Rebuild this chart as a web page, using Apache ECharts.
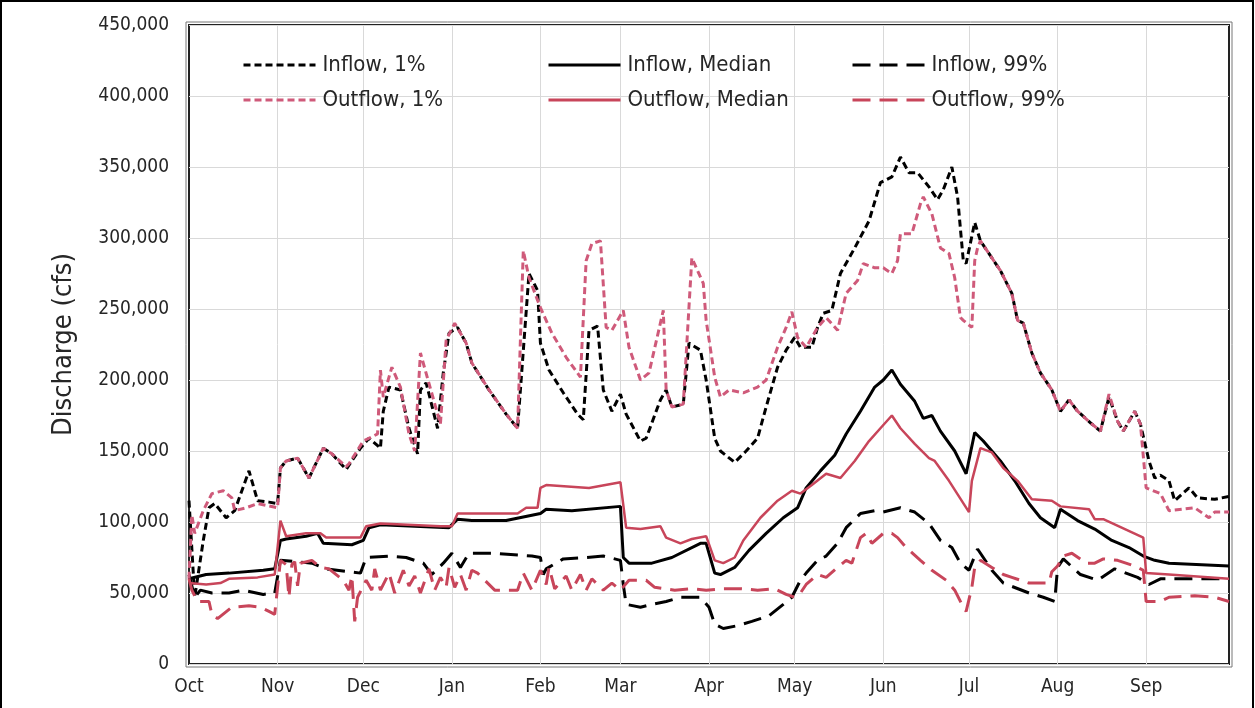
<!DOCTYPE html>
<html>
<head>
<meta charset="utf-8">
<script src="https://cdn.jsdelivr.net/npm/echarts@6/dist/echarts.min.js"></script>
<style>
html,body{margin:0;padding:0;background:#fff;}
#chart{width:1255px;height:708px;}
</style>
</head>
<body>
<div id="chart"></div>
<script>
// ---- tick labels / categories ----
const monthNames = ['Oct','Nov','Dec','Jan','Feb','Mar','Apr','May','Jun','Jul','Aug','Sep'];
const monthDays  = [31,30,31,31,28,31,30,31,30,31,31,30];

// ---- series values: [day index from Oct 1, discharge cfs] ----
const inflow1 = [
[0,115000],[2,47000],[5,87000],[7,110000],[9,113000],[13,103000],[16,108000],[21,136000],[24,115000],[28,114000],[31,113000],
[32,138000],[34,143000],[38,145000],[42,131000],[47,152000],[50,148000],[55,137000],[60,152000],[63,159000],[67,152000],[68,178000],
[70,195000],[74,193000],[77,166000],[80,148000],[81,193000],[83,198000],[87,166000],[89,205000],[91,233000],[94,237000],[97,226000],
[99,212000],[105,193000],[111,176000],[115,166000],[119,275000],[122,263000],[123,226000],[126,207000],[131,191000],[136,176000],
[138,172000],[140,235000],[143,238000],[145,193000],[148,178000],[151,190000],[153,176000],[158,157000],[160,159000],[165,186000],
[167,193000],[169,181000],[173,183000],[175,226000],[179,221000],[181,200000],[184,159000],[186,150000],[191,142000],[195,150000],
[199,159000],[202,181000],[206,209000],[209,221000],[212,230000],[214,223000],[218,223000],[220,237000],[222,247000],[225,249000],
[228,275000],[233,293000],[238,312000],[242,339000],[246,343000],[249,357000],[252,346000],[255,346000],[259,336000],[262,327000],
[264,334000],[267,350000],[269,329000],[271,284000],[272,282000],[275,311000],[277,298000],[281,286000],[284,277000],[288,261000],
[290,242000],[292,240000],[295,219000],[298,205000],[302,193000],[305,178000],[308,186000],[311,178000],[316,169000],[319,164000],
[322,188000],[325,171000],[327,164000],[331,178000],[333,169000],[336,143000],[338,131000],[340,133000],[343,129000],[345,115000],
[350,124000],[353,117000],[359,116000],[364,118000]
];
const inflowMed = [
[0,60000],[6,63000],[14,64000],[26,66000],[30,67000],[32,87000],[34,88000],[41,90000],[45,92000],[47,85000],[57,84000],[61,87000],
[63,96000],[67,98000],[91,96000],[94,102000],[99,101000],[111,101000],[123,106000],[125,109000],[134,108000],[151,111000],
[152,75000],[154,71000],[162,71000],[169,75000],[179,85000],[181,85000],[184,64000],[186,63000],[191,68000],[196,80000],
[202,92000],[208,103000],[213,110000],[216,124000],[221,136000],[226,147000],[230,162000],[235,178000],[240,195000],[243,200000],
[246,207000],[249,197000],[254,185000],[257,173000],[260,175000],[263,164000],[268,150000],[272,134000],[275,163000],[278,157000],
[284,143000],[289,129000],[294,113000],[298,103000],[303,96000],[305,109000],[311,101000],[317,95000],[323,87000],[329,82000],
[334,76000],[338,73000],[343,71000],[364,69000]
];
const inflow99 = [
[0,63000],[2,47000],[4,52000],[8,50000],[14,50000],[19,52000],[26,49000],[30,50000],[32,73000],[38,72000],[43,71000],[48,67000],
[60,64000],[62,75000],[70,76000],[76,75000],[82,71000],[85,63000],[89,71000],[92,78000],[95,68000],[98,78000],[106,78000],
[120,76000],[123,75000],[124,63000],[125,67000],[131,74000],[139,75000],[145,76000],[151,73000],[152,56000],[153,42000],
[158,40000],[162,42000],[167,44000],[172,47000],[179,47000],[182,40000],[184,28000],[187,25000],[192,27000],[197,30000],
[203,34000],[208,42000],[211,47000],[214,59000],[216,64000],[220,73000],[223,76000],[227,85000],[230,96000],[235,106000],
[240,108000],[243,107000],[249,110000],[254,107000],[259,99000],[263,87000],[267,82000],[270,71000],[273,66000],[276,81000],
[281,66000],[285,57000],[294,50000],[299,47000],[303,44000],[304,68000],[306,74000],[312,63000],[318,59000],[324,67000],
[332,61000],[336,56000],[340,60000],[364,60000]
];
const outflow1 = [
[0,60000],[1,105000],[2,92000],[5,108000],[8,120000],[12,122000],[15,117000],[16,108000],[20,110000],[24,113000],[31,110000],
[32,138000],[34,143000],[38,145000],[42,131000],[47,152000],[50,148000],[55,139000],[56,141000],[61,157000],[66,162000],[67,207000],
[68,188000],[71,209000],[74,195000],[77,162000],[79,150000],[81,219000],[88,169000],[90,228000],[93,240000],[97,226000],[99,212000],
[105,193000],[111,176000],[115,166000],[117,291000],[119,272000],[123,251000],[127,233000],[132,216000],[137,202000],[139,284000],
[141,296000],[144,298000],[146,237000],[148,235000],[152,249000],[154,223000],[158,200000],[161,205000],[166,249000],[167,193000],
[169,181000],[173,183000],[176,286000],[180,268000],[181,242000],[184,202000],[186,188000],[189,193000],[194,191000],[199,195000],
[202,200000],[206,223000],[209,237000],[211,248000],[213,230000],[216,223000],[220,237000],[223,244000],[227,235000],[230,261000],
[234,270000],[236,282000],[240,279000],[243,279000],[246,275000],[248,284000],[249,303000],[253,303000],[256,324000],[257,329000],
[260,317000],[263,293000],[266,289000],[268,272000],[270,244000],[271,242000],[274,237000],[275,284000],[276,293000],[277,298000],
[281,286000],[284,277000],[288,261000],[290,242000],[292,240000],[295,219000],[298,205000],[302,193000],[305,178000],[308,186000],
[311,178000],[316,169000],[319,164000],[322,190000],[325,171000],[327,164000],[331,178000],[333,169000],[335,124000],[340,120000],
[343,108000],[352,110000],[357,103000],[359,107000],[364,107000]
];
const outflowMed = [
[0,57000],[6,56000],[11,57000],[14,60000],[24,61000],[30,63000],[32,101000],[34,90000],[41,92000],[46,92000],[48,89000],[60,89000],
[62,97000],[67,99000],[88,97000],[92,97000],[94,106000],[99,106000],[115,106000],[118,110000],[122,110000],[123,124000],
[125,126000],[140,124000],[151,128000],[153,96000],[158,95000],[165,97000],[167,89000],[172,85000],[176,88000],[181,90000],
[184,73000],[187,71000],[191,75000],[194,87000],[200,103000],[206,115000],[211,122000],[214,120000],[218,126000],[223,134000],
[228,131000],[233,143000],[238,157000],[242,166000],[246,175000],[249,166000],[254,155000],[259,145000],[261,143000],[266,129000],
[273,107000],[274,129000],[277,152000],[281,149000],[285,138000],[290,129000],[295,116000],[302,115000],[305,111000],[315,109000],
[317,102000],[320,102000],[334,89000],[335,64000],[343,63000],[364,60000]
];
const outflow99 = [
[0,60000],[1,52000],[3,44000],[7,44000],[8,35000],[10,32000],[15,40000],[21,41000],[25,40000],[28,37000],[30,35000],[32,73000],
[34,70000],[35,47000],[36,70000],[37,72000],[38,55000],[39,71000],[43,73000],[46,68000],[49,67000],[54,59000],[56,52000],[57,62000],
[58,30000],[59,47000],[62,59000],[64,52000],[65,67000],[67,52000],[70,64000],[72,50000],[75,66000],[77,55000],[79,62000],
[81,50000],[84,67000],[86,52000],[88,61000],[90,54000],[91,68000],[93,54000],[95,63000],[97,52000],[99,66000],[101,64000],
[104,58000],[107,52000],[115,52000],[117,64000],[120,52000],[123,66000],[125,56000],[126,68000],[128,53000],[132,62000],
[134,52000],[137,63000],[139,52000],[141,60000],[145,52000],[148,57000],[151,52000],[154,59000],[160,59000],[163,54000],
[170,52000],[176,53000],[181,52000],[187,53000],[193,53000],[199,52000],[205,53000],[209,49000],[212,47000],[214,50000],
[216,56000],[220,63000],[223,61000],[227,68000],[230,73000],[232,71000],[235,89000],[237,92000],[239,85000],[243,92000],
[246,92000],[248,89000],[251,82000],[256,73000],[260,66000],[265,59000],[268,52000],[271,40000],[272,37000],[274,54000],
[275,68000],[277,73000],[281,68000],[285,63000],[288,61000],[294,57000],[301,57000],[302,65000],[304,69000],[306,76000],
[309,78000],[314,71000],[317,71000],[320,74000],[325,73000],[331,69000],[334,66000],[335,44000],[340,44000],[343,47000],
[352,48000],[359,47000],[364,44000]
];

// ---- build categories ----
const categories = [];
const monthStart = new Set();
monthNames.forEach((m, i) => {
  monthStart.add(categories.length);
  for (let d = 1; d <= monthDays[i]; d++) categories.push(m + ' ' + d);
});

const FONT = "'Liberation Sans Narrow','DejaVu Sans Condensed','Open Sans',sans-serif";
const BLACK = '#000000';
const RED = '#c8455a';
const PINK = '#cf5a7a';
const SHORT = [7, 4];
const LONG = [18, 9];

function mk(name, data, color, width, type) {
  return {
    name, type: 'line', data, symbol: 'none', showSymbol: false,
    lineStyle: { color, width, type },
    itemStyle: { color },
    animation: false
  };
}
const series = [
  mk('Inflow, 1%', inflow1, BLACK, 3, SHORT),
  mk('Inflow, Median', inflowMed, BLACK, 3, 'solid'),
  mk('Inflow, 99%', inflow99, BLACK, 3, LONG),
  mk('Outflow, 1%', outflow1, PINK, 3, SHORT),
  mk('Outflow, Median', outflowMed, RED, 2.5, 'solid'),
  mk('Outflow, 99%', outflow99, RED, 3, LONG)
];

function leg(name, left, top) {
  return {
    data: [name], left, top, itemWidth: 72, itemHeight: 14, itemGap: 0,
    itemStyle: { opacity: 0 },
    lineStyle: { width: 3 },
    textStyle: { fontFamily: FONT, fontSize: 22, color: '#262626', padding: [0, 0, 0, 2] },
    selectedMode: false
  };
}

const chart = echarts.init(document.getElementById('chart'), null, { renderer: 'canvas' });
chart.setOption({
  backgroundColor: '#ffffff',
  animation: false,
  textStyle: { fontFamily: FONT },
  grid: { left: 189, top: 25, right: 26, bottom: 44, show: true, borderColor: '#222', borderWidth: 2, backgroundColor: 'transparent' },
  legend: [
    leg('Inflow, 1%', 237, 49),
    leg('Inflow, Median', 542, 49),
    leg('Inflow, 99%', 846, 49),
    leg('Outflow, 1%', 237, 84),
    leg('Outflow, Median', 542, 84),
    leg('Outflow, 99%', 846, 84)
  ],
  xAxis: {
    type: 'category', data: categories, boundaryGap: false,
    axisLine: { show: false },
    axisTick: { show: false },
    axisLabel: {
      interval: (i) => monthStart.has(i),
      formatter: (v) => v.split(' ')[0],
      fontFamily: FONT, fontSize: 19, color: '#262626', margin: 14
    },
    splitLine: { show: true, interval: (i) => monthStart.has(i) && i !== 0, lineStyle: { color: '#d9d9d9', width: 1 } }
  },
  yAxis: {
    type: 'value', min: 0, max: 450000, interval: 50000,
    name: 'Discharge (cfs)', nameLocation: 'middle', nameGap: 112, nameRotate: 90,
    nameTextStyle: { fontFamily: FONT, fontSize: 27, color: '#262626' },
    axisLine: { show: false }, axisTick: { show: false },
    axisLabel: {
      formatter: (v) => v.toLocaleString('en-US'),
      fontFamily: FONT, fontSize: 19, color: '#262626', margin: 20
    },
    splitLine: { lineStyle: { color: '#d9d9d9', width: 1 } }
  },
  graphic: [
    { type: 'rect', shape: { x: 1, y: 1, width: 1252, height: 720 }, style: { fill: 'none', stroke: '#000', lineWidth: 2 }, silent: true },
    { type: 'rect', shape: { x: 186, y: 22, width: 1046, height: 645 }, style: { fill: 'none', stroke: '#777', lineWidth: 1 }, silent: true }
  ],
  series
});
</script>
</body>
</html>
